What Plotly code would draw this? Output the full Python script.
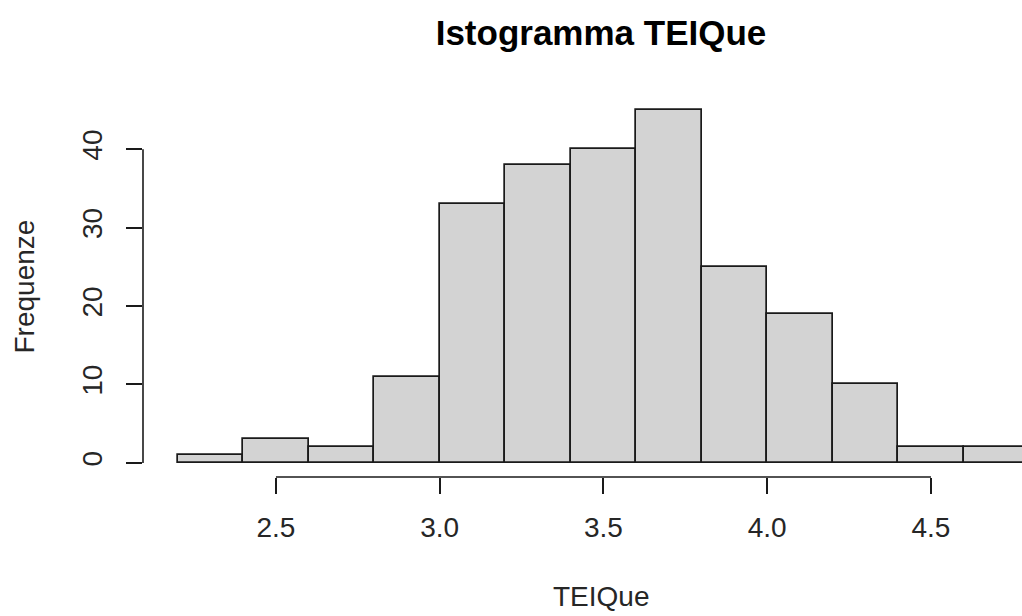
import plotly.graph_objects as go

# Data
bin_edges = [2.2, 2.4, 2.6, 2.8, 3.0, 3.2, 3.4, 3.6, 3.8, 4.0, 4.2, 4.4, 4.6, 4.8]
counts = [1, 3, 2, 11, 33, 38, 40, 45, 25, 19, 10, 2, 2]
x_ticks = [2.5, 3.0, 3.5, 4.0, 4.5]
x_tick_labels = ["2.5", "3.0", "3.5", "4.0", "4.5"]
y_ticks = [0, 10, 20, 30, 40]
y_tick_labels = ["0", "10", "20", "30", "40"]

centers = [(a + b) / 2 for a, b in zip(bin_edges[:-1], bin_edges[1:])]
widths = [b - a for a, b in zip(bin_edges[:-1], bin_edges[1:])]

FONT = "Liberation Sans, Arial, sans-serif"
TXT = "#262626"

fig = go.Figure()
fig.add_trace(go.Bar(
    x=centers, y=counts, width=widths,
    marker=dict(color="#D3D3D3", line=dict(color="#1a1a1a", width=1.7)),
    hoverinfo="skip",
))

L, R, T, B = 143, 0, 96, 139
fig.update_layout(
    width=1022, height=616,
    margin=dict(l=L, r=R, t=T, b=B),
    plot_bgcolor="white", paper_bgcolor="white",
    showlegend=False,
    bargap=0,
    font=dict(family=FONT, size=28, color=TXT),
    title=dict(text="<b>Istogramma TEIQue</b>", x=601 / 1022, xanchor="center",
               y=1 - 33 / 616, yanchor="middle", yref="container",
               font=dict(family=FONT, size=35, color="#000000")),
    xaxis=dict(range=[2.094, 4.778], tickvals=x_ticks, ticktext=x_tick_labels,
               ticks="outside", ticklen=16, tickwidth=1.6, tickcolor="#1a1a1a",
               ticklabelstandoff=9,
               showgrid=False, zeroline=False, showline=False,
               tickfont=dict(size=28, color=TXT)),
    yaxis=dict(range=[-1.8, 46.8], tickvals=y_ticks, ticktext=y_tick_labels,
               ticks="outside", ticklen=16, tickwidth=1.6, tickcolor="#1a1a1a",
               tickangle=-90, ticklabelstandoff=13,
               showgrid=False, zeroline=False, showline=False,
               tickfont=dict(size=28, color=TXT)),
)

# R-style axis lines spanning only the tick range
fig.add_shape(type="line", xref="x", yref="paper",
              x0=min(x_ticks), x1=max(x_ticks), y0=0, y1=0,
              line=dict(color="#1a1a1a", width=1.6))
fig.add_shape(type="line", xref="paper", yref="y",
              x0=0, x1=0, y0=min(y_ticks), y1=max(y_ticks),
              line=dict(color="#1a1a1a", width=1.6))

pw = 1022 - L - R
ph = 616 - T - B
fig.add_annotation(text="TEIQue", xref="paper", yref="paper",
                   x=(601 - L) / pw, y=(616 - B - 596) / ph,
                   xanchor="center", yanchor="middle", showarrow=False,
                   font=dict(family=FONT, size=28, color=TXT))
fig.add_annotation(text="Frequenze", xref="paper", yref="paper",
                   x=(24 - L) / pw, y=0.5, textangle=-90,
                   xanchor="center", yanchor="middle", showarrow=False,
                   font=dict(family=FONT, size=28, color=TXT))

fig.write_html("out.html")
